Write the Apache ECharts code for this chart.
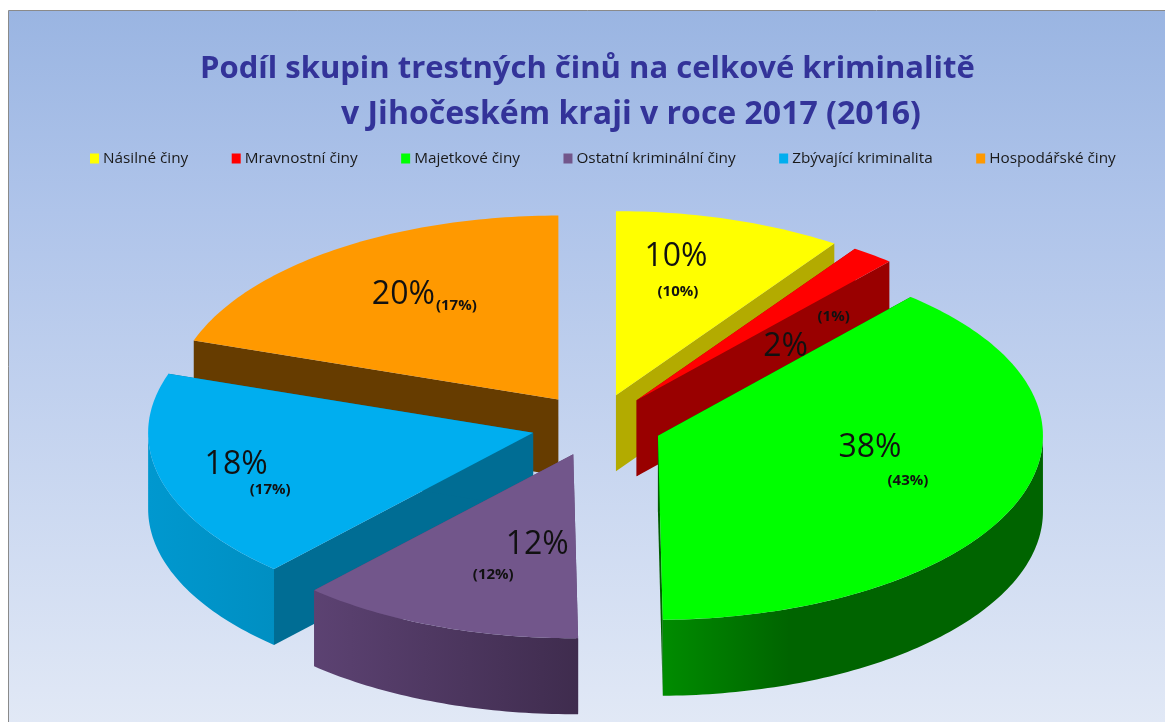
<!DOCTYPE html>
<html>
<head>
<meta charset="UTF-8">
<style>
    html, body { margin: 0; padding: 0; background: #fff; }
    #container { width: 1165px; height: 722px; }
</style>
<script src="https://cdn.jsdelivr.net/npm/echarts@6/dist/echarts.min.js"></script>
</head>
<body>
<div id="container"></div>
<script>
    // data
    let categories = ['Násilné činy', 'Mravnostní činy', 'Majetkové činy', 'Ostatní kriminální činy', 'Zbývající kriminalita', 'Hospodářské činy'];
    let share2017 = [9.6, 1.8, 38.4, 11.95, 18.45, 19.8];
    let share2016 = [10, 1, 43, 12, 17, 17];

    // colours per slice
    let topColors = ['#ffff00', '#ff0000', '#00ff00', '#72568b', '#00aeef', '#ff9900'];
    let sideColors = ['#b3ab00', '#990000', '#005f00', '#5a4170', '#006d94', '#663c00'];
    let wallColors = [
        ['#b3ab00', '#b3ab00'],
        ['#990000', '#990000'],
        ['#008c00', '#006400', '#006400', '#006400'],
        ['#5c4272', '#3f2c4e'],
        ['#0098cf', '#008fc2'],
        ['#663c00', '#663c00']
    ];
    // back to front
    let drawOrder = [5, 0, 1, 4, 2, 3];
    // label offsets from the tip of each slice
    let bigOffset = [[60, -138], [149, -53], [212, 12], [-36, 91], [-297, 32], [-155, -105]];
    let smallOffset = [[62, -103], [197, -84], [250, 45], [-80, 120], [-263, 57], [-102, -94]];

    // pie geometry
    let cx = 596.5, cy = 425, rx = 385, ry = 184, depth = 76, explode = 0.17;
    let fontName = '"Open Sans", "Noto Sans", sans-serif';

    function rad(deg) {
        return deg * Math.PI / 180;
    }

    // angles, clockwise from the top
    let total = share2017.reduce(function(a, b) { return a + b; }, 0);
    let startAngle = [];
    let endAngle = [];
    let sum = 0;
    share2017.forEach(function(v) {
        startAngle.push(sum / total * 360);
        sum += v;
        endAngle.push(sum / total * 360);
    });

    function tip(i) {
        let mid = rad((startAngle[i] + endAngle[i]) / 2);
        return [cx + explode * rx * Math.sin(mid), cy - explode * ry * Math.cos(mid)];
    }

    function rim(i, deg, dy) {
        let c = tip(i);
        return [c[0] + rx * Math.sin(rad(deg)), c[1] - ry * Math.cos(rad(deg)) + (dy || 0)];
    }

    function arcPoints(i, from, to, dy) {
        let pts = [];
        let n = Math.max(2, Math.ceil(Math.abs(to - from)));
        for (let k = 0; k <= n; k++) {
            pts.push(rim(i, from + (to - from) * k / n, dy));
        }
        return pts;
    }

    function sideWall(i, deg) {
        let c = tip(i);
        let p = rim(i, deg);
        return {
            type: 'polygon',
            shape: { points: [c, p, [p[0], p[1] + depth], [c[0], c[1] + depth]] },
            style: { fill: sideColors[i] }
        };
    }

    function renderSlice(i) {
        return function() {
            let children = [sideWall(i, startAngle[i]), sideWall(i, endAngle[i])];
            // the round wall only shows on the front half
            let from = Math.max(startAngle[i], 90);
            let to = Math.min(endAngle[i], 270);
            if (to > from) {
                let stops = wallColors[i].map(function(color, k) {
                    return { offset: k / (wallColors[i].length - 1), color: color };
                });
                children.push({
                    type: 'polygon',
                    shape: { points: arcPoints(i, from, to, 0).concat(arcPoints(i, to, from, depth)) },
                    style: {
                        fill: { type: 'linear', x: 0, y: 0, x2: 1, y2: 0, colorStops: stops }
                    }
                });
            }
            children.push({
                type: 'polygon',
                shape: { points: [tip(i)].concat(arcPoints(i, startAngle[i], endAngle[i], 0)) },
                style: { fill: topColors[i] }
            });
            return { type: 'group', children: children };
        };
    }

    function renderLabel(params) {
        let i = params.dataIndex;
        let c = tip(i);
        return {
            type: 'group',
            children: [{
                type: 'text',
                style: {
                    x: c[0] + bigOffset[i][0],
                    y: c[1] + bigOffset[i][1],
                    text: Math.round(share2017[i]) + '%',
                    font: '32px ' + fontName,
                    fill: '#111',
                    align: 'center',
                    verticalAlign: 'middle'
                }
            }, {
                type: 'text',
                style: {
                    x: c[0] + smallOffset[i][0],
                    y: c[1] + smallOffset[i][1],
                    text: '(' + share2016[i] + '%)',
                    font: 'bold 15px ' + fontName,
                    fill: '#111',
                    align: 'center',
                    verticalAlign: 'middle'
                }
            }]
        };
    }

    let seriesData = categories.map(function(name, i) {
        return {
            name: name,
            type: 'custom',
            coordinateSystem: 'none',
            silent: true,
            z: 2 + drawOrder.indexOf(i),
            itemStyle: { color: topColors[i] },
            renderItem: renderSlice(i),
            data: [share2017[i]]
        };
    });
    seriesData.push({
        name: 'popisky',
        type: 'custom',
        coordinateSystem: 'none',
        silent: true,
        z: 20,
        renderItem: renderLabel,
        data: share2017
    });

    let option = {
        animation: false,
        backgroundColor: '#ffffff',
        title: [{
            text: 'Podíl skupin trestných činů na celkové kriminalitě',
            left: 195,
            top: 49,
            textStyle: { fontFamily: fontName, fontSize: 31, fontWeight: 'bold', color: '#333399' }
        }, {
            text: 'v Jihočeském kraji v roce 2017 (2016)',
            left: 336,
            top: 94,
            textStyle: { fontFamily: fontName, fontSize: 32, fontWeight: 'bold', color: '#333399' }
        }],
        legend: {
            data: categories,
            left: 85,
            top: 146,
            icon: 'rect',
            itemWidth: 9,
            itemHeight: 10,
            itemGap: 43.5,
            selectedMode: false,
            textStyle: { fontFamily: fontName, fontSize: 15.3, color: '#1a1a1a', padding: [0, 0, 0, -1] }
        },
        graphic: [{
            type: 'rect',
            z: -1,
            silent: true,
            shape: { x: 8.5, y: 10.5, width: 1165, height: 720 },
            style: {
                stroke: '#8a8a8a',
                lineWidth: 1,
                fill: {
                    type: 'linear', x: 0, y: 0, x2: 0, y2: 1,
                    colorStops: [
                        { offset: 0, color: '#9ab5e2' },
                        { offset: 0.28, color: '#afc4ea' },
                        { offset: 1, color: '#e2e9f6' }
                    ]
                }
            }
        }],
        series: seriesData
    };

    let myChart = echarts.init(document.getElementById('container'));
    myChart.setOption(option);
</script>
</body>
</html>
